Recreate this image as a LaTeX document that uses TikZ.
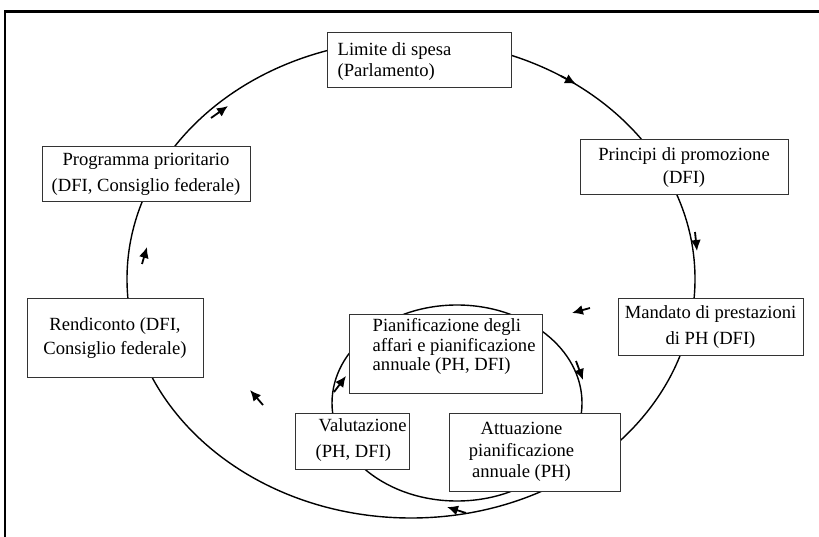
\documentclass[tikz,border=0pt]{standalone}
\usepackage{fontspec}
\setmainfont{Liberation Serif}
\usetikzlibrary{arrows.meta}
\begin{document}
\begin{tikzpicture}[x=1pt,y=-1pt,
  cycleline/.style={line width=1.4pt, black},
  framerule/.style={line width=3pt, black},
  boxshape/.style={draw=black!80, line width=1pt, fill=white, inner sep=0pt},
  txt/.style={inner sep=0pt, font=\fontsize{18.6}{22}\selectfont},
  flow/.style={line width=1.8pt, -{Latex[length=11pt,width=10pt]}}
]
\useasboundingbox (0,0) rectangle (819,537);

% frame
\draw[framerule] (4,12) -- (819,12);
\draw[line width=2.5pt] (5,12) -- (5,537);

% outer and inner cycles
\draw[cycleline] (411,279) ellipse [x radius=284, y radius=239];
\draw[cycleline] (457,403) ellipse [x radius=125, y radius=98];

% boxes
\node[boxshape, minimum width=184pt, minimum height=55pt] (limite) at (419,60.5) {};
\node[txt, anchor=west, align=left, font=\fontsize{18.6}{21.5}\selectfont] (limitetxt) at ([xshift=11pt,yshift=-1pt]limite.west)
  {Limite di spesa\\(Parlamento)};

\node[boxshape, minimum width=208pt, minimum height=55pt, txt, align=center, font=\fontsize{18.6}{23}\selectfont] (principi) at (684,167.5)
  {Principi di promozione\\(DFI)};

\node[boxshape, minimum width=185pt, minimum height=56pt, txt, align=center, font=\fontsize{18.6}{26}\selectfont] (mandato) at (710.5,327)
  {Mandato di prestazioni\\di PH (DFI)};

\node[boxshape, minimum width=208pt, minimum height=55pt, txt, align=center, font=\fontsize{18.6}{26}\selectfont] (programma) at (146,174.5)
  {Programma prioritario\\(DFI, Consiglio federale)};

\node[boxshape, minimum width=176pt, minimum height=78pt, txt, align=center, font=\fontsize{18.6}{24}\selectfont] (rendiconto) at (115,338)
  {Rendiconto (DFI,\\Consiglio federale)};

\node[boxshape, minimum width=193pt, minimum height=79pt] (plan) at (445.5,353.5) {};
\node[txt, anchor=west, align=left, font=\fontsize{18.6}{19.3}\selectfont] (plantxt) at ([xshift=24pt,yshift=7pt]plan.west)
  {Pianificazione degli\\affari e pianificazione\\annuale (PH, DFI)};

\node[boxshape, minimum width=114pt, minimum height=56pt] (valuta) at (352,441) {};
\node[txt, anchor=west, align=left, font=\fontsize{18.6}{26}\selectfont] (valutatxt) at ([xshift=21pt,yshift=1pt]valuta.west)
  {\hspace*{3pt}Valutazione\\(PH, DFI)};

\node[boxshape, minimum width=171pt, minimum height=78pt] (attua) at (534.5,452) {};
\node[txt, align=center, font=\fontsize{18.6}{21.7}\selectfont] (attuatxt) at ([xshift=-13pt,yshift=0pt]attua.center)
  {Attuazione\\pianificazione\\annuale (PH)};

% direction marks
\coordinate (a1s) at (561,76);  \coordinate (a1e) at (576,84);
\coordinate (a2s) at (695,232); \coordinate (a2e) at (697,251);
\coordinate (a3s) at (590,308); \coordinate (a3e) at (572,313);
\coordinate (a4s) at (576,361); \coordinate (a4e) at (583,380);
\coordinate (a5s) at (466,513); \coordinate (a5e) at (447,507);
\coordinate (a6s) at (263,405); \coordinate (a6e) at (250,390);
\coordinate (a7s) at (334,392); \coordinate (a7e) at (346,376);
\coordinate (a8s) at (142,264); \coordinate (a8e) at (147,247);
\coordinate (a9s) at (211,118); \coordinate (a9e) at (228,106);
\foreach \i in {1,...,9} \draw[flow] (a\i s) -- (a\i e);
\end{tikzpicture}
\end{document}
